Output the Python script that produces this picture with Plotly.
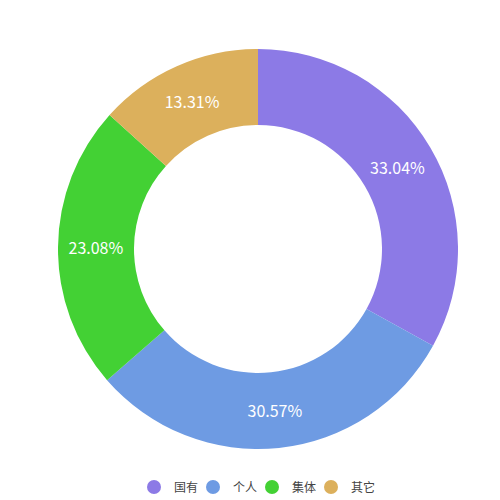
import plotly.graph_objects as go

labels = ["国有", "个人", "集体", "其它"]
values = [33.04, 30.57, 23.08, 13.31]
colors = ["#8c7ae6", "#6e9be3", "#43d134", "#dcb05c"]

fig = go.Figure()

fig.add_trace(
    go.Pie(
        labels=labels,
        values=values,
        hole=0.62,
        sort=False,
        direction="clockwise",
        rotation=0,
        marker=dict(colors=colors, line=dict(width=0)),
        texttemplate="%{percent:.2%}",
        textposition="inside",
        insidetextorientation="horizontal",
        textfont=dict(color="white", size=16, family="Noto Sans CJK SC"),
        domain=dict(x=[0.1, 0.9], y=[0.118, 0.918]),
        showlegend=False,
        hoverinfo="label+percent",
    )
)

# circle markers for the legend (last entry wider so its text is not clipped)
for i, (name, color) in enumerate(zip(labels, colors)):
    fig.add_trace(
        go.Scatter(
            x=[None],
            y=[None],
            mode="markers",
            name=name,
            marker=dict(color=color, size=14, symbol="circle"),
            legendwidth=30 if i == len(labels) - 1 else 14,
        )
    )

fig.update_layout(
    width=500,
    height=500,
    margin=dict(l=0, r=0, t=0, b=0),
    paper_bgcolor="white",
    plot_bgcolor="rgba(0,0,0,0)",
    xaxis=dict(visible=False),
    yaxis=dict(visible=False),
    font=dict(family="Noto Sans CJK SC", color="#444"),
    legend=dict(
        orientation="h",
        x=0.504,
        xanchor="center",
        y=0.042,
        yanchor="middle",
        font=dict(size=12, color="#444"),
        itemwidth=30,
        entrywidth=14,
        entrywidthmode="pixels",
        tracegroupgap=0,
        bgcolor="rgba(0,0,0,0)",
    ),
)

fig.write_html("out.html")
